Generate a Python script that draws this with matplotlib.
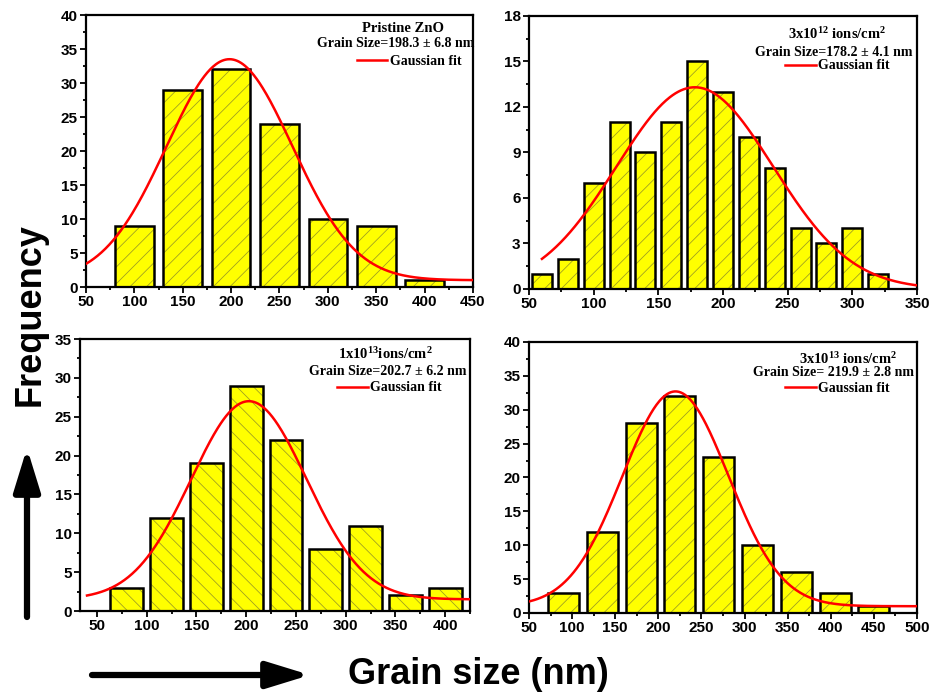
import numpy as np
import matplotlib
matplotlib.use('Agg')
import matplotlib.pyplot as plt
from matplotlib.patches import FancyArrowPatch
from matplotlib.ticker import MultipleLocator, AutoMinorLocator

BAR_FACE = '#ffff00'
HATCH_COLOR = '#9a9a22'
BAR_EDGE = 'k'
FIT_COLOR = 'red'
SERIF = 'Liberation Serif'

# pristine ZnO
p1_centers = [100, 150, 200, 250, 300, 350, 400]
p1_counts = [9, 29, 32, 24, 10, 9, 1]
p1_fit = (198.3, 65.0, 32.5, 1.0)  # xc, sigma, amplitude, offset
p1_fit_range = (50, 450)
p1_title = 'Pristine ZnO'
p1_size = 'Grain Size=198.3 \u00b1 6.8 nm'

# 3x10^12 ions/cm^2
p2_centers = [60, 80, 100, 120, 140, 160, 180, 200, 220, 240, 260, 280, 300, 320]
p2_counts = [1, 2, 7, 11, 9, 11, 15, 13, 10, 8, 4, 3, 4, 1]
p2_fit = (178.2, 60.6, 13.3, 0.0)
p2_fit_range = (60, 350)
p2_title = r'3x10$^{12}$ ions/cm$^{2}$'
p2_size = 'Grain Size=178.2 \u00b1 4.1 nm'

# 1x10^13 ions/cm^2
p3_centers = [80, 120, 160, 200, 240, 280, 320, 360, 400]
p3_counts = [3, 12, 19, 29, 22, 8, 11, 2, 3]
p3_fit = (202.7, 58.0, 25.5, 1.5)
p3_fit_range = (40, 425)
p3_title = r'1x10$^{13}$ions/cm$^{2}$'
p3_size = 'Grain Size=202.7 \u00b1 6.2 nm'

# 3x10^13 ions/cm^2
p4_centers = [90, 135, 180, 225, 270, 315, 360, 405, 450]
p4_counts = [3, 12, 28, 32, 23, 10, 6, 3, 1]
p4_fit = (219.9, 61.5, 31.7, 1.0)
p4_fit_range = (50, 500)
p4_title = r'3x10$^{13}$ ions/cm$^{2}$'
p4_size = 'Grain Size= 219.9 \u00b1 2.8 nm'

plt.rcParams['font.family'] = ['Liberation Sans', 'DejaVu Sans']
plt.rcParams['font.weight'] = 'bold'
plt.rcParams['mathtext.default'] = 'regular'
plt.rcParams['hatch.linewidth'] = 0.55


def gauss(x, fit):
    xc, s, a, y0 = fit
    return y0 + a * np.exp(-(x - xc) ** 2 / (2 * s ** 2))


def draw_panel(ax, centers, counts, width, hatch, fit, fit_range, xlim, ylim, ystep,
               title, size, title_pos, size_pos, leg_pos):
    ax.bar(centers, counts, width, color=BAR_FACE, edgecolor=HATCH_COLOR, hatch=hatch,
           linewidth=0, zorder=1)
    ax.bar(centers, counts, width, fill=False, edgecolor=BAR_EDGE, linewidth=1.8, zorder=2)
    x = np.linspace(fit_range[0], fit_range[1], 400)
    ax.plot(x, gauss(x, fit), color=FIT_COLOR, lw=1.8, zorder=3, label='Gaussian fit')

    ax.set_xlim(*xlim)
    ax.set_ylim(*ylim)
    ax.xaxis.set_major_locator(MultipleLocator(50))
    ax.yaxis.set_major_locator(MultipleLocator(ystep))
    ax.xaxis.set_minor_locator(AutoMinorLocator(2))
    ax.yaxis.set_minor_locator(AutoMinorLocator(2))
    ax.tick_params(which='both', direction='out', top=False, right=False, width=1.3,
                   labelsize=11, pad=2)
    ax.tick_params(which='major', length=4)
    ax.tick_params(which='minor', length=2.5)
    for sp in ax.spines.values():
        sp.set_linewidth(1.6)

    ax.text(*title_pos, title, transform=ax.transAxes, ha='center', va='center',
            family=SERIF, fontsize=10.5, weight='bold')
    ax.text(*size_pos, size, transform=ax.transAxes, ha='center', va='center',
            family=SERIF, fontsize=10, weight='bold')
    ax.legend(loc='center left', bbox_to_anchor=leg_pos, frameon=False, borderpad=0,
              borderaxespad=0, handlelength=2.2, handletextpad=0.2,
              prop={'family': SERIF, 'weight': 'bold', 'size': 10})


fig = plt.figure(figsize=(9.34, 6.98), dpi=100)
ax1 = fig.add_axes([0.0921, 0.5888, 0.4143, 0.3897])
ax2 = fig.add_axes([0.5664, 0.5860, 0.4154, 0.3911])
ax3 = fig.add_axes([0.0857, 0.1246, 0.4176, 0.3897])
ax4 = fig.add_axes([0.5664, 0.1218, 0.4154, 0.3883])

draw_panel(ax1, p1_centers, p1_counts, 40, '//', p1_fit, p1_fit_range, (50, 450), (0, 40), 5,
           p1_title, p1_size, (0.82, 0.952), (0.80, 0.897), (0.70, 0.83))
draw_panel(ax2, p2_centers, p2_counts, 15.5, '//', p2_fit, p2_fit_range, (50, 350), (0, 18), 3,
           p2_title, p2_size, (0.794, 0.935), (0.786, 0.868), (0.66, 0.817))
draw_panel(ax3, p3_centers, p3_counts, 33, '\\\\', p3_fit, p3_fit_range, (33, 425), (0, 35), 5,
           p3_title, p3_size, (0.782, 0.944), (0.79, 0.879), (0.659, 0.82))
draw_panel(ax4, p4_centers, p4_counts, 36, '//', p4_fit, p4_fit_range, (50, 500), (0, 40), 5,
           p4_title, p4_size, (0.822, 0.936), (0.786, 0.886), (0.66, 0.83))

fig.text(30 / 934, 1 - 315 / 698, 'Frequency', rotation=90, ha='center', va='center',
         fontsize=26, weight='bold')
fig.text(478 / 934, 1 - 675 / 698, 'Grain size (nm)', ha='center', va='center',
         fontsize=26, weight='bold')

arrow_style = '-|>,head_length=1.3,head_width=0.4'
fig.add_artist(FancyArrowPatch((27 / 934, 81 / 698), (27 / 934, 250 / 698),
                               transform=fig.transFigure, arrowstyle=arrow_style,
                               mutation_scale=20, lw=4.5, color='k', shrinkA=0, shrinkB=0))
fig.add_artist(FancyArrowPatch((92 / 934, 23 / 698), (310 / 934, 23 / 698),
                               transform=fig.transFigure, arrowstyle=arrow_style,
                               mutation_scale=20, lw=4.5, color='k', shrinkA=0, shrinkB=0))

fig.savefig('out.png', dpi=100)
